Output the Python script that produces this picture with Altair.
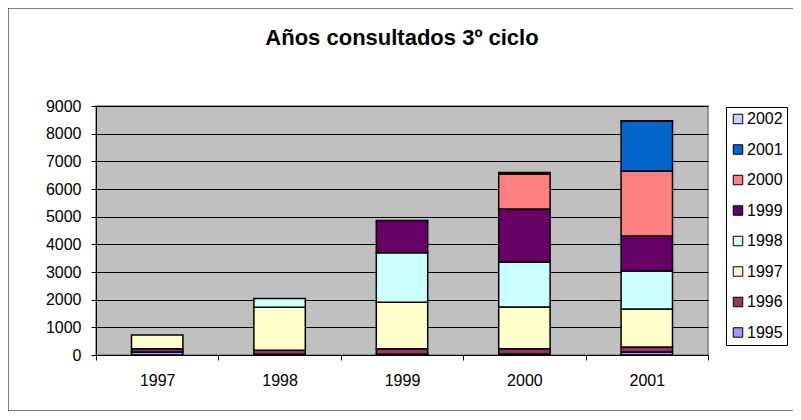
import altair as alt
import pandas as pd

categories = ["1997", "1998", "1999", "2000", "2001"]
series = ["1995", "1996", "1997", "1998", "1999", "2000", "2001", "2002"]
s1995 = [110, 30, 30, 40, 110]
s1996 = [120, 140, 200, 190, 180]
s1997 = [490, 1560, 1680, 1505, 1375]
s1998 = [0, 310, 1790, 1615, 1375]
s1999 = [0, 0, 1160, 1925, 1265]
s2000 = [0, 0, 0, 1265, 2350]
s2001 = [0, 0, 0, 60, 1800]
s2002 = [0, 0, 0, 0, 15]
colors = ["#9999FF", "#993366", "#FFFFCC", "#CCFFFF", "#660066", "#FF8080", "#0066CC", "#CCCCFF"]
y_ticks = [0, 1000, 2000, 3000, 4000, 5000, 6000, 7000, 8000, 9000]

values = [s1995, s1996, s1997, s1998, s1999, s2000, s2001, s2002]
rows = []
for i, (name, vals) in enumerate(zip(series, values)):
    for cat, v in zip(categories, vals):
        if v > 0:
            rows.append({"curso": cat, "serie": name, "valor": v, "orden": i})
df = pd.DataFrame(rows)

W, H = 612, 249
FONT = "Liberation Sans"

bars = alt.Chart(df).mark_bar(
    stroke="black", strokeWidth=1.5, width=alt.RelativeBandSize(0.42)
).encode(
    x=alt.X("curso:N", sort=categories, title=None,
            scale=alt.Scale(paddingInner=0, paddingOuter=0),
            axis=alt.Axis(labelAngle=0, tickBand="extent", tickSize=5,
                          labelPadding=12, domainColor="black", tickColor="black",
                          labelFontSize=16, labelFont=FONT, labelColor="black",
                          grid=False)),
    y=alt.Y("valor:Q", stack="zero", title=None,
            scale=alt.Scale(domain=[0, 9000], nice=False),
            axis=alt.Axis(values=y_ticks, format="d", tickSize=5, labelPadding=10,
                          domainColor="black", tickColor="black",
                          gridColor="black", gridWidth=1, gridOpacity=1,
                          labelFontSize=16, labelFont=FONT, labelColor="black")),
    color=alt.Color("serie:N", title=None,
                    scale=alt.Scale(domain=series[::-1], range=colors[::-1]),
                    legend=alt.Legend(orient="none", legendX=630, legendY=1,
                                      strokeColor="black", fillColor="white",
                                      padding=4, symbolType="square", symbolSize=90,
                                      symbolStrokeColor="black", symbolStrokeWidth=1,
                                      labelFontSize=16, labelFont=FONT, labelColor="black",
                                      rowPadding=14.5, labelOffset=1)),
    order=alt.Order("orden:Q", sort="ascending"),
)

border = alt.Chart(pd.DataFrame({"k": [0]})).mark_rect(
    fill=None, stroke="black", strokeWidth=1
).encode(
    x=alt.value(-88), x2=alt.value(720), y=alt.value(-98), y2=alt.value(305)
)

chart = alt.layer(bars, border).properties(
    width=W, height=H,
    title=alt.TitleParams("Años consultados 3º ciclo", font=FONT, fontSize=22,
                          fontWeight="bold", color="black", offset=-42,
                          anchor="middle", frame="group"),
    autosize=alt.AutoSizeParams(type="none"),
    padding={"left": 88, "top": 98, "right": 85, "bottom": 56},
    background="white",
).configure_view(
    fill="#C0C0C0", stroke="#808080", strokeWidth=1.5
)

chart.save("out.html", embed_options={"renderer": "svg", "actions": False})
